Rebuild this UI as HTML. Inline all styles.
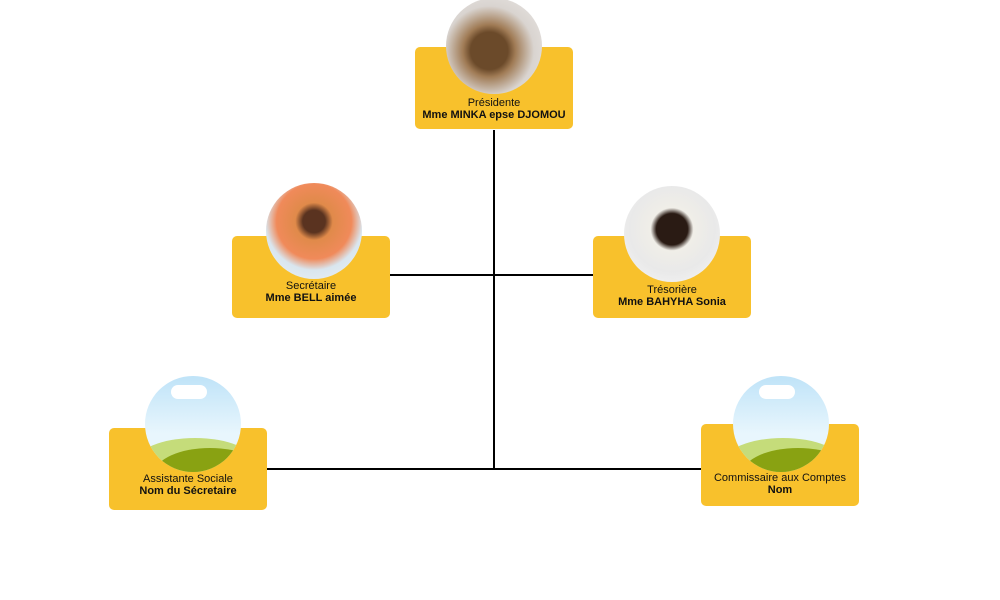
<!DOCTYPE html>
<html><head><meta charset="utf-8"><style>
body{margin:0;width:1000px;height:600px;background:#fff;position:relative;overflow:hidden;font-family:"Liberation Sans",sans-serif}
.box{position:absolute;width:158px;height:82px;background:#f8c12c;border-radius:5px}
.c{position:absolute;width:96px;height:96px;border-radius:50%;overflow:hidden}
.t{position:absolute;width:158px;text-align:center;font-size:11px;color:#111;line-height:12px}
.t b{display:block}
.l{position:absolute;background:#000}
.sky{background:linear-gradient(#bfe3f8,#e8f6fd 60%)}
</style></head><body>
<div class="l" style="left:493px;top:130px;width:2px;height:340px"></div>
<div class="l" style="left:390px;top:274px;width:203px;height:2px"></div>
<div class="l" style="left:267px;top:468px;width:434px;height:2px"></div>

<div class="box" style="left:415px;top:47px"></div>
<div class="c" style="left:446px;top:-2px;background:radial-gradient(circle at 45% 55%,#6b4a2a 0 25%,#a07b55 35%,#d9d4d0 60%,#ece9e7)"></div>
<div class="t" style="left:415px;top:97px">Présidente<b>Mme MINKA epse DJOMOU</b></div>

<div class="box" style="left:232px;top:236px"></div>
<div class="c" style="left:266px;top:183px;background:radial-gradient(circle at 50% 40%,#5a3320 0 15%,#e08a4a 25%,#f08a5a 50%,#d9e6ef 65%,#f2f2f2)"></div>
<div class="t" style="left:232px;top:280px">Secrétaire<b>Mme BELL aimée</b></div>

<div class="box" style="left:593px;top:236px"></div>
<div class="c" style="left:624px;top:186px;background:radial-gradient(circle at 50% 45%,#2a1b14 0 22%,#f0eee8 30%,#e9e9e9 60%,#f8f8f8)"></div>
<div class="t" style="left:593px;top:284px">Trésorière<b>Mme BAHYHA Sonia</b></div>

<div class="box" style="left:109px;top:428px"></div>
<div class="c sky" style="left:145px;top:376px">
<div style="position:absolute;left:26px;top:9px;width:36px;height:14px;background:#fff;border-radius:8px"></div>
<div style="position:absolute;left:-10px;top:62px;width:120px;height:50px;background:#c5dc7a;border-radius:50% 50% 0 0"></div>
<div style="position:absolute;left:10px;top:72px;width:110px;height:50px;background:#89a212;border-radius:50% 50% 0 0"></div></div>
<div class="t" style="left:109px;top:473px">Assistante Sociale<b>Nom du Sécretaire</b></div>

<div class="box" style="left:701px;top:424px"></div>
<div class="c sky" style="left:733px;top:376px">
<div style="position:absolute;left:26px;top:9px;width:36px;height:14px;background:#fff;border-radius:8px"></div>
<div style="position:absolute;left:-10px;top:62px;width:120px;height:50px;background:#c5dc7a;border-radius:50% 50% 0 0"></div>
<div style="position:absolute;left:10px;top:72px;width:110px;height:50px;background:#89a212;border-radius:50% 50% 0 0"></div></div>
<div class="t" style="left:701px;top:472px">Commissaire aux Comptes<b>Nom</b></div>
</body></html>
